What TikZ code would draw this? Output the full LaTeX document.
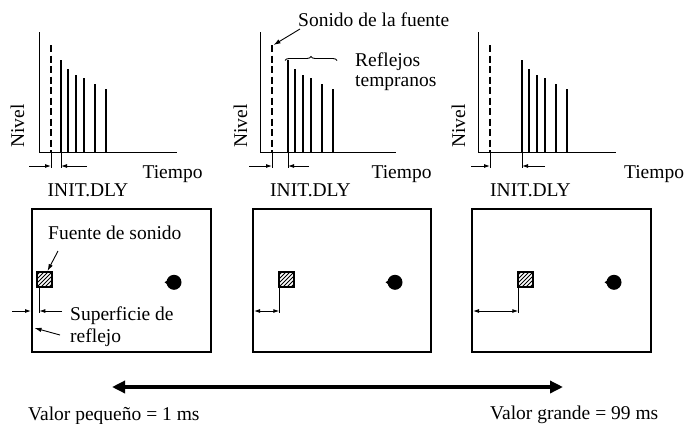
\documentclass[tikz,border=0pt]{standalone}
\usepackage{fontspec}
\setmainfont{Liberation Serif}
\usetikzlibrary{arrows.meta,decorations.pathreplacing}
\begin{document}
\begin{tikzpicture}[x=1pt,y=-1pt,
  lbl/.style={inner sep=0pt,font=\fontsize{19.5}{22}\selectfont},
  axisline/.style={line width=1pt},
  bar/.style={line width=2pt},
  dbar/.style={line width=2pt,dash pattern=on 7pt off 3.5pt},
  tip/.style={-{Latex[length=6pt,width=4pt]}},
  dimline/.style={line width=0.9pt},
  ptr/.style={line width=0.9pt,-{Latex[length=7pt,width=4.5pt]}},
  room/.style={line width=2.2pt},
  sq/.style={line width=1.2pt},
  bigarrow/.style={line width=3.5pt,{Triangle[length=13pt,width=12pt]}-{Triangle[length=13pt,width=12pt]}}
]
\useasboundingbox (0,0) rectangle (684,423);

% ---------- level/time graphs ----------
\foreach \k/\ax/\ex/\dx/\bx/\dl/\dr/\nx/\tx/\ix in {
  1/39/177/51/61/29/87/24/172.5/88,
  2/260/396/272/288/249/309/247/401.5/310.5,
  3/478/616/490/522/471/545/465/654/530.5}{
  \draw[axisline] (\ax,32) -- (\ax,152) -- (\ex,152);
  \draw[dbar] (\dx,45) -- (\dx,152);
  \foreach \o/\t in {0/60,7/69,15/75,23/78,33.5/84,45/89}{
    \draw[bar] (\bx+\o,\t) -- (\bx+\o,152);
  }
  \draw[dimline] (\dx,152) -- (\dx,168);
  \draw[dimline] (\bx,152) -- (\bx,168);
  \coordinate (dl\k) at (\dl,166);
  \coordinate (dr\k) at (\dr,166);
  \coordinate (dtl\k) at (\dx,166);
  \coordinate (dtr\k) at (\bx,166);
  \draw[dimline,tip] (dl\k) -- (dtl\k);
  \draw[dimline,tip] (dr\k) -- (dtr\k);
  \node[lbl,rotate=90,anchor=base] (nivel\k) at (\nx,126) {Nivel};
  \node[lbl,anchor=base] (tiempo\k) at (\tx,178) {Tiempo};
  \node[lbl,anchor=base] (init\k) at (\ix,196.5) {INIT.DLY};
}

% labels of middle graph
\node[lbl,anchor=base west] (sonido) at (298,26) {Sonido de la fuente};
\coordinate (sonTail) at (300,29);
\coordinate (sonTip) at (273.5,45);
\draw[ptr] (sonTail) -- (sonTip);
\draw[line width=0.9pt,decorate,decoration={brace,amplitude=4pt}] (285,60.5) -- (337,60.5);
\node[lbl,anchor=base west] (refl) at (355,66.7) {Reflejos};
\node[lbl,anchor=base west] (temp) at (355,86.7) {tempranos};

% ---------- rooms ----------
\foreach \k/\l/\r/\sx/\cx in {1/32/211/37/174, 2/253/431/279/395, 3/472/651/518/614}{
  \draw[room] (\l,209) rectangle (\r,352);
  \begin{scope}
    \clip (\sx,272) rectangle (\sx+15,287);
    \foreach \i in {-16,-12,...,16}{
      \draw[line width=0.9pt] (\sx+\i,287) -- (\sx+\i+15,272);
    }
  \end{scope}
  \draw[sq] (\sx,272) rectangle (\sx+15,287);
  \fill (\cx,282.3) circle (7.5);
  \fill (\cx-9.5,282.3) -- (\cx-4,278.5) -- (\cx-4,286.1) -- cycle;
}

% room 1 annotations
\node[lbl,anchor=base west] (fuente) at (48,239) {Fuente de sonido};
\coordinate (fuTail) at (58,251);
\coordinate (fuTip) at (47.5,271);
\draw[ptr] (fuTail) -- (fuTip);
\draw[dimline] (39.3,287) -- (39.3,313);
\coordinate (w1a) at (12,311);
\coordinate (w1b) at (31,311);
\coordinate (w1c) at (62,311);
\coordinate (w1d) at (39.3,311);
\draw[dimline,tip] (w1a) -- (w1b);
\draw[dimline,tip] (w1c) -- (w1d);
\node[lbl,anchor=base west] (sup) at (70,320.7) {Superficie de};
\node[lbl,anchor=base west] (refj) at (70,342.7) {reflejo};
\coordinate (reTail) at (60,335);
\coordinate (reTip) at (34.5,328);
\draw[ptr] (reTail) -- (reTip);

% room 2 and 3 distances
\draw[dimline] (279.3,287) -- (279.3,313);
\coordinate (w2a) at (254,311);
\coordinate (w2b) at (279.3,311);
\draw[dimline,{Latex[length=6pt,width=4pt]}-{Latex[length=6pt,width=4pt]}] (w2a) -- (w2b);
\draw[dimline] (518.3,287) -- (518.3,313);
\coordinate (w3a) at (473,311);
\coordinate (w3b) at (518.3,311);
\draw[dimline,{Latex[length=6pt,width=4pt]}-{Latex[length=6pt,width=4pt]}] (w3a) -- (w3b);

% ---------- range arrow ----------
\coordinate (bigL) at (112,387);
\coordinate (bigR) at (563,387);
\draw[bigarrow] (bigL) -- (bigR);
\node[lbl,anchor=base west] (small) at (28,420) {Valor pequeño = 1 ms};
\node[lbl,anchor=base west] (large) at (490,419) {Valor grande = 99 ms};
\end{tikzpicture}
\end{document}
